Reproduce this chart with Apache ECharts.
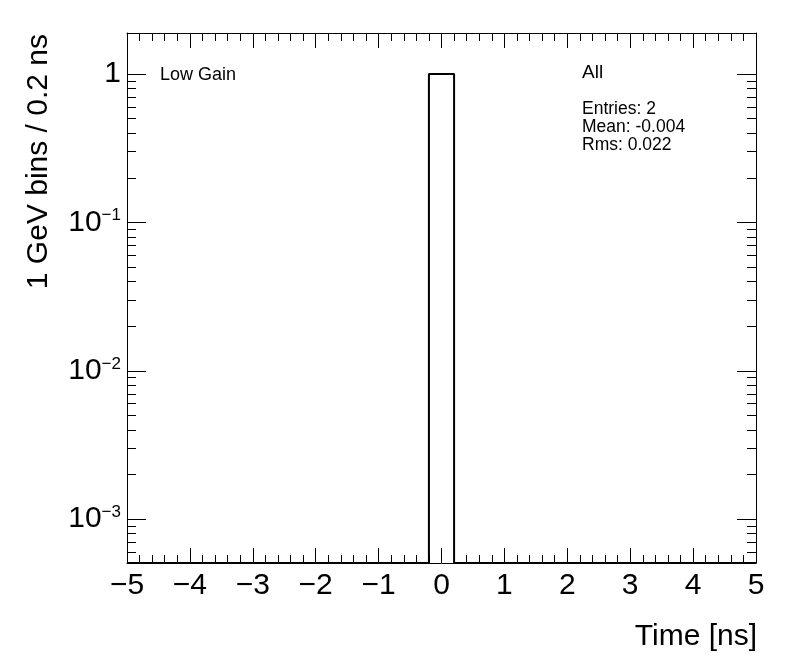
<!DOCTYPE html>
<html>
<head>
<meta charset="utf-8">
<script src="https://cdn.jsdelivr.net/npm/echarts@6/dist/echarts.min.js"></script>
<style>
html,body{margin:0;padding:0;background:#fff;}
#chart{width:796px;height:672px;}
</style>
</head>
<body>
<div id="chart"></div>
<script>
// ---- data ----
const xRange = [-5, 5];
const binWidth = 0.2;
const counts = [
  0,0,0,0,0,0,0,0,0,0,
  0,0,0,0,0,0,0,0,0,0,
  0,0,0,0,1,1,0,0,0,0,
  0,0,0,0,0,0,0,0,0,0,
  0,0,0,0,0,0,0,0,0,0
];
const xTickLabels = [-5,-4,-3,-2,-1,0,1,2,3,4,5];
const yDecades = [-3, -2, -1, 0];       // log10 of labelled ticks
const yRange = [5.07e-4, 1.89];         // axis extent (data units)
const xTitle = 'Time [ns]';
const yTitle = '1 GeV bins / 0.2 ns';
const statTitle = 'All';
const statLines = ['Entries: 2', 'Mean: -0.004', 'Rms: 0.022'];
const padLabel = 'Low Gain';

// ---- build ----
const FONT = 'Liberation Sans, Arial, Helvetica, sans-serif';
const Y_MIN = Math.log10(yRange[0]);
const Y_MAX = Math.log10(yRange[1]);

const lineData = [];
for (let i = 0; i < counts.length; i++) {
  const x = xRange[0] + i * binWidth;
  lineData.push([x, counts[i] > 0 ? Math.log10(counts[i]) : Y_MIN]);
}
lineData.push([xRange[1], Y_MIN]);

const minorY = [];
for (let n = -4; n <= 0; n++) {
  for (let k = 2; k <= 9; k++) {
    const v = Math.log10(k) + n;
    if (v > Y_MIN && v < Y_MAX) minorY.push(v);
  }
}

const minus = s => String(s).replace('-', '\u2212');

const baseX = {
  type: 'value', min: xRange[0], max: xRange[1], interval: 1,
  splitLine: {show: false},
  axisLine: {show: true, onZero: false, lineStyle: {color: '#000', width: 1}},
};

const chart = echarts.init(document.getElementById('chart'), null, {renderer: 'canvas'});
chart.setOption({
  animation: false,
  backgroundColor: '#fff',
  grid: {left: 127, right: 40, top: 33, bottom: 109, containLabel: false},
  xAxis: [
    Object.assign({}, baseX, {
      position: 'bottom',
      axisTick: {show: true, inside: true, length: 15, lineStyle: {color: '#000', width: 1}},
      minorTick: {show: true, splitNumber: 5, length: 8, lineStyle: {color: '#000', width: 1}},
      axisLabel: {
        show: true, color: '#000', fontFamily: FONT, fontSize: 30, margin: 8,
        formatter: v => minus(v)
      }
    }),
    Object.assign({}, baseX, {
      position: 'top',
      axisTick: {show: true, inside: true, length: 15, lineStyle: {color: '#000', width: 1}},
      minorTick: {show: true, splitNumber: 5, length: 8, lineStyle: {color: '#000', width: 1}},
      axisLabel: {show: false}
    })
  ],
  yAxis: [
    {
      type: 'value', position: 'left', min: Y_MIN, max: Y_MAX,
      splitLine: {show: false},
      axisLine: {show: true, onZero: false, lineStyle: {color: '#000', width: 1}},
      axisTick: {show: true, inside: true, length: 19, customValues: yDecades, lineStyle: {color: '#000', width: 1}},
      axisLabel: {
        show: true, customValues: yDecades, margin: 6, color: '#000', fontFamily: FONT,
        formatter: v => {
          const n = Math.round(v);
          if (n === 0) return '{b|1}';
          return '{b|10}{s|' + minus(n) + '}';
        },
        rich: {
          b: {fontSize: 30, fontFamily: FONT, color: '#000'},
          s: {fontSize: 17, fontFamily: FONT, color: '#000', verticalAlign: 'top', padding: [0, 0, 14, 0]}
        }
      }
    },
    {
      type: 'value', position: 'left', min: Y_MIN, max: Y_MAX,
      splitLine: {show: false}, axisLine: {show: false, onZero: false},
      axisTick: {show: true, inside: true, length: 9, customValues: minorY, lineStyle: {color: '#000', width: 1}},
      axisLabel: {show: false}
    },
    {
      type: 'value', position: 'right', min: Y_MIN, max: Y_MAX,
      splitLine: {show: false},
      axisLine: {show: true, onZero: false, lineStyle: {color: '#000', width: 1}},
      axisTick: {show: true, inside: true, length: 19, customValues: yDecades, lineStyle: {color: '#000', width: 1}},
      axisLabel: {show: false}
    },
    {
      type: 'value', position: 'right', min: Y_MIN, max: Y_MAX,
      splitLine: {show: false}, axisLine: {show: false, onZero: false},
      axisTick: {show: true, inside: true, length: 9, customValues: minorY, lineStyle: {color: '#000', width: 1}},
      axisLabel: {show: false}
    }
  ],
  series: [{
    type: 'line', xAxisIndex: 0, yAxisIndex: 0,
    data: lineData, step: 'end', symbol: 'none', clip: true,
    lineStyle: {color: '#000', width: 2}
  }],
  graphic: [
    {type: 'text', x: 160, y: 75, style: {text: padLabel, font: '18px ' + FONT, fill: '#000', verticalAlign: 'middle'}},
    {type: 'text', x: 582, y: 73, style: {text: statTitle, font: '19px ' + FONT, fill: '#000', verticalAlign: 'middle'}},
    {type: 'text', x: 582, y: 109, style: {text: statLines[0], font: '17.5px ' + FONT, fill: '#000', verticalAlign: 'middle'}},
    {type: 'text', x: 582, y: 127, style: {text: statLines[1], font: '17.5px ' + FONT, fill: '#000', verticalAlign: 'middle'}},
    {type: 'text', x: 582, y: 145, style: {text: statLines[2], font: '17.5px ' + FONT, fill: '#000', verticalAlign: 'middle'}},
    {type: 'text', x: 757, y: 637, style: {text: xTitle, font: '30px ' + FONT, fill: '#000', align: 'right', verticalAlign: 'middle'}},
    {type: 'text', x: 39, y: 34, rotation: Math.PI / 2, style: {text: yTitle, font: '30px ' + FONT, fill: '#000', align: 'right', verticalAlign: 'middle'}}
  ]
});
</script>
</body>
</html>
